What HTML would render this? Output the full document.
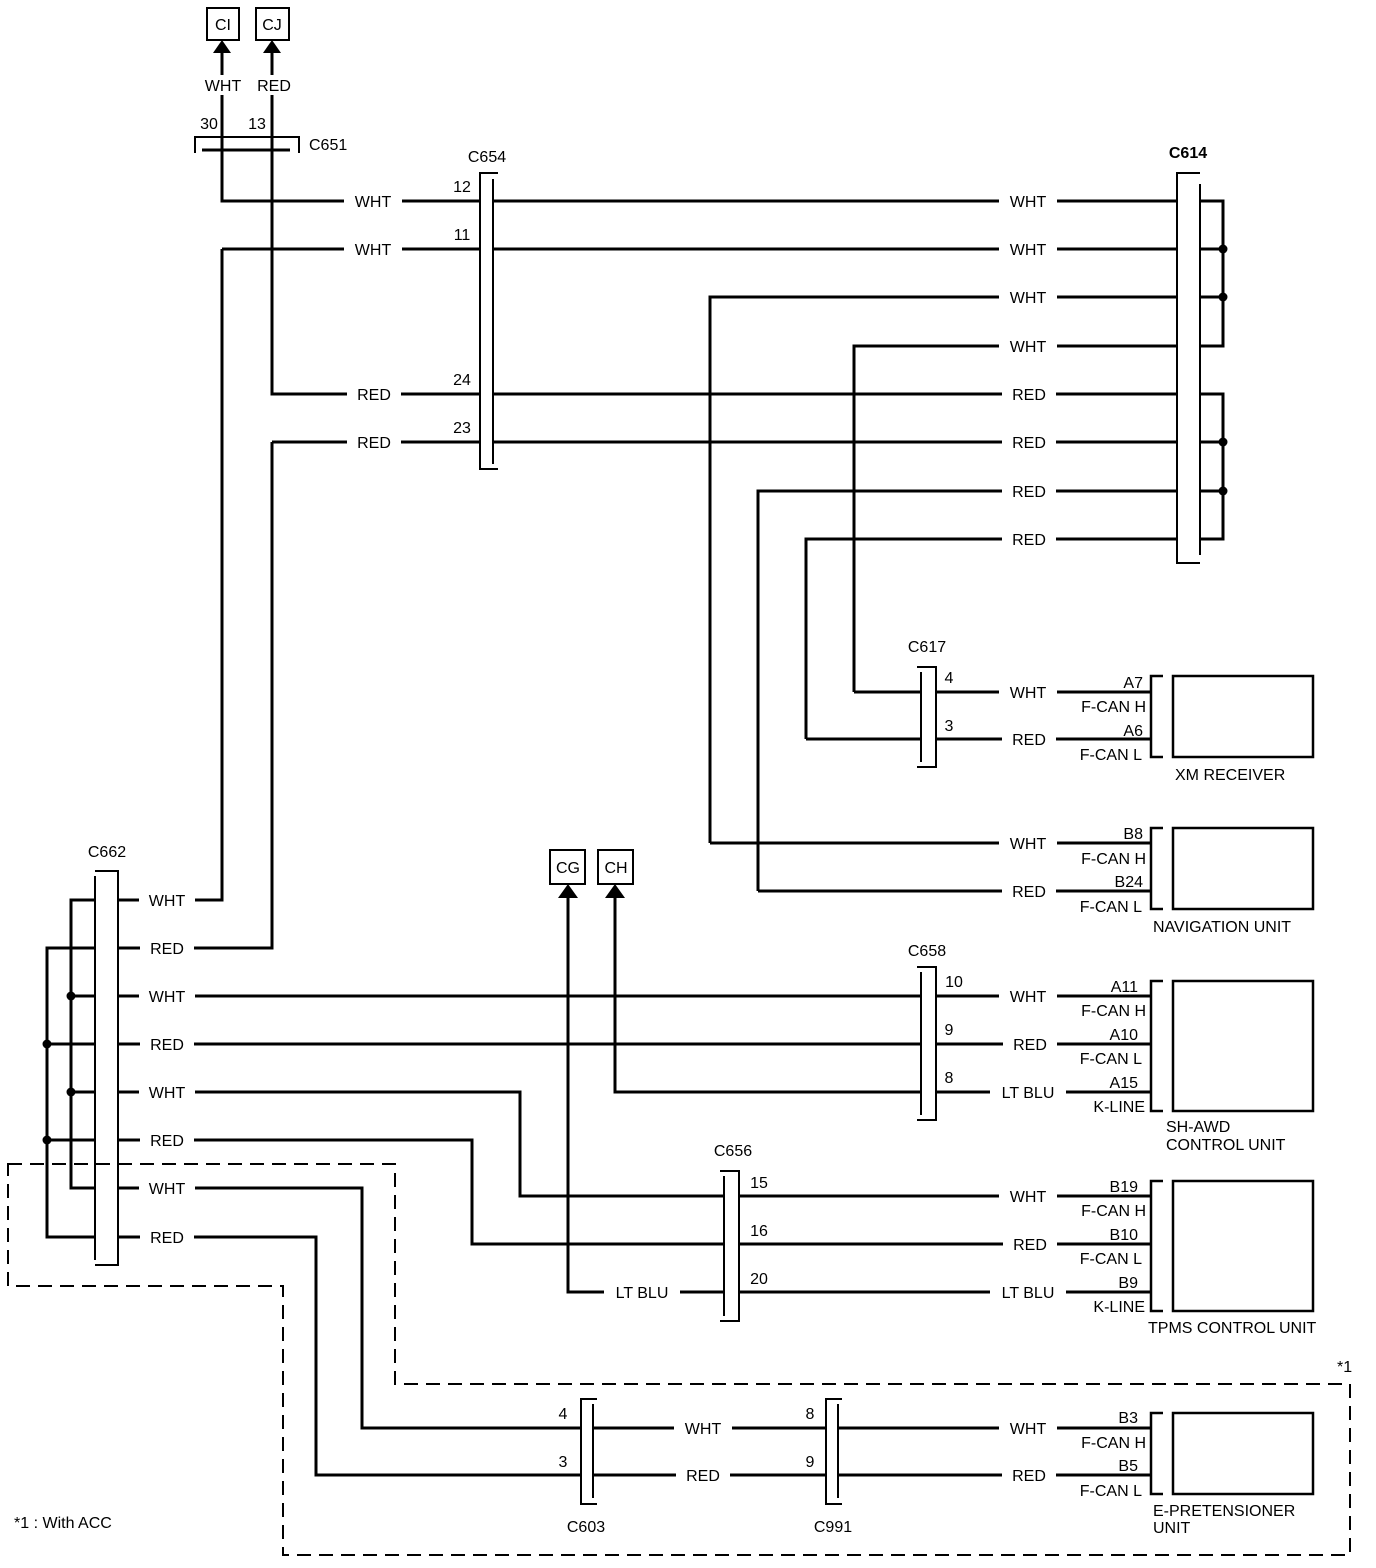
<!DOCTYPE html>
<html><head><meta charset="utf-8"><style>
html,body{margin:0;padding:0;background:#fff;}
svg{display:block;}
text{font-family:"Liberation Sans",Arial,sans-serif;font-size:16px;fill:#000;}
.w{stroke:#000;stroke-width:3;fill:none;}
.c{stroke:#000;stroke-width:2;fill:none;}
.d{stroke:#000;stroke-width:2;fill:none;stroke-dasharray:14 8;}
.m{text-anchor:middle;}
.e{text-anchor:end;}
</style></head><body>
<svg width="1376" height="1568" viewBox="0 0 1376 1568" xmlns="http://www.w3.org/2000/svg">
<!-- dashed region -->
<path class="d" d="M8,1164 H395 V1384 H1350 V1555 H283 V1286 H8 Z"/>
<text x="1337" y="1372">*1</text>
<text x="14" y="1528">*1 : With ACC</text>

<!-- top CI CJ -->
<rect x="207" y="8" width="32" height="32" class="c"/>
<rect x="256" y="8" width="33" height="32" class="c"/>
<text x="223" y="30" class="m">CI</text>
<text x="272" y="30" class="m">CJ</text>
<polygon points="222,40 213,53 231,53"/>
<polygon points="272,40 263,53 281,53"/>
<path class="w" d="M222,52 V75 M222,95 V201 H480 M272,52 V75 M272,95 V394 H480"/>
<text x="223" y="91" class="m">WHT</text>
<text x="274" y="91" class="m">RED</text>
<text x="209" y="129" class="m">30</text>
<text x="257" y="129" class="m">13</text>
<path class="c" d="M195,153 V137 H299 V153"/>
<path class="w" d="M202,150 H290"/>
<text x="309" y="150">C651</text>

<!-- C654 -->
<text x="487" y="162" class="m">C654</text>
<path class="w" d="M222,249 H480 M272,442 H480"/>
<path class="w" d="M493,201 H1177 M493,249 H1177 M493,394 H1177 M493,442 H1177"/>
<path class="w" d="M710,843 V297 H1177 M854,692 V346 H1177 M758,891 V491 H1177 M806,739 V539 H1177"/>
<path class="c" d="M498,173 H480 V469 H498 M493,179 V464"/>
<text x="462" y="192" class="m">12</text>
<text x="462" y="240" class="m">11</text>
<text x="462" y="385" class="m">24</text>
<text x="462" y="433" class="m">23</text>

<!-- C614 -->
<text x="1188" y="158" class="m" style="font-weight:bold">C614</text>
<path class="c" d="M1200,173 H1177 V563 H1200 M1200,184 V555"/>
<path class="w" d="M1200,201 H1223 V346 H1200 M1200,249 H1223 M1200,297 H1223 M1200,394 H1223 V539 H1200 M1200,442 H1223 M1200,491 H1223"/>
<circle cx="1223" cy="249" r="4.5"/><circle cx="1223" cy="297" r="4.5"/>
<circle cx="1223" cy="442" r="4.5"/><circle cx="1223" cy="491" r="4.5"/>

<!-- C617 -->
<text x="927" y="652" class="m">C617</text>
<path class="w" d="M854,692 H921 M806,739 H921 M936,692 H1151 M936,739 H1151"/>
<path class="c" d="M917,667 H936 V767 H917 M921,672 V762"/>
<text x="949" y="683" class="m">4</text>
<text x="949" y="731" class="m">3</text>

<!-- Nav wires -->
<path class="w" d="M710,843 H1151 M758,891 H1151"/>

<!-- C662 -->
<text x="107" y="857" class="m">C662</text>
<path class="c" d="M95,871 H118 V1265 H95 M95,876 V1260"/>
<path class="w" d="M95,900 H71 V1188 H95 M71,996 H95 M71,1092 H95 M95,948 H47 V1237 H95 M47,1044 H95 M47,1140 H95"/>
<circle cx="71" cy="996" r="4.5"/><circle cx="71" cy="1092" r="4.5"/>
<circle cx="47" cy="1044" r="4.5"/><circle cx="47" cy="1140" r="4.5"/>
<path class="w" d="M118,900 H222 V249 M118,948 H272 V442 M118,996 H921 M118,1044 H921 M118,1092 H520 V1196 H724 M118,1140 H472 V1244 H724 M118,1188 H362 V1428 H581 M118,1237 H316 V1475 H581"/>

<!-- CG CH -->
<rect x="550" y="850" width="35" height="34" class="c"/>
<rect x="598" y="850" width="35" height="34" class="c"/>
<text x="568" y="873" class="m">CG</text>
<text x="616" y="873" class="m">CH</text>
<polygon points="568,884 558,898 578,898"/>
<polygon points="615,884 605,898 625,898"/>
<path class="w" d="M568,897 V1292 H724 M615,897 V1092 H921"/>

<!-- C658 -->
<text x="927" y="956" class="m">C658</text>
<path class="c" d="M917,967 H936 V1120 H917 M921,972 V1115"/>
<path class="w" d="M936,996 H1151 M936,1044 H1151 M936,1092 H1151"/>
<text x="954" y="987" class="m">10</text>
<text x="949" y="1035" class="m">9</text>
<text x="949" y="1083" class="m">8</text>

<!-- C656 -->
<text x="733" y="1156" class="m">C656</text>
<path class="c" d="M720,1171 H739 V1321 H720 M724,1176 V1316"/>
<path class="w" d="M739,1196 H1151 M739,1244 H1151 M739,1292 H1151"/>
<text x="759" y="1188" class="m">15</text>
<text x="759" y="1236" class="m">16</text>
<text x="759" y="1284" class="m">20</text>

<!-- C603 / C991 -->
<path class="c" d="M597,1399 H581 V1504 H597 M593,1404 V1498"/>
<path class="c" d="M842,1399 H826 V1504 H842 M838,1404 V1498"/>
<path class="w" d="M593,1428 H826 M593,1475 H826 M838,1428 H1151 M838,1475 H1151"/>
<text x="563" y="1419" class="m">4</text>
<text x="563" y="1467" class="m">3</text>
<text x="810" y="1419" class="m">8</text>
<text x="810" y="1467" class="m">9</text>
<text x="586" y="1532" class="m">C603</text>
<text x="833" y="1532" class="m">C991</text>

<!-- wire label backgrounds + labels -->
<g fill="#fff">
<rect x="344" y="191" width="58" height="20"/><rect x="344" y="239" width="58" height="20"/>
<rect x="347" y="384" width="54" height="20"/><rect x="347" y="432" width="54" height="20"/>
<rect x="999" y="191" width="58" height="20"/><rect x="999" y="239" width="58" height="20"/>
<rect x="999" y="287" width="58" height="20"/><rect x="999" y="336" width="58" height="20"/>
<rect x="1002" y="384" width="54" height="20"/><rect x="1002" y="432" width="54" height="20"/>
<rect x="1002" y="481" width="54" height="20"/><rect x="1002" y="529" width="54" height="20"/>
<rect x="999" y="682" width="58" height="20"/><rect x="1002" y="729" width="54" height="20"/>
<rect x="999" y="833" width="58" height="20"/><rect x="1002" y="881" width="54" height="20"/>
<rect x="139" y="890" width="56" height="20"/><rect x="140" y="938" width="54" height="20"/>
<rect x="139" y="986" width="56" height="20"/><rect x="140" y="1034" width="54" height="20"/>
<rect x="139" y="1082" width="56" height="20"/><rect x="140" y="1130" width="54" height="20"/>
<rect x="139" y="1178" width="56" height="20"/><rect x="140" y="1227" width="54" height="20"/>
<rect x="999" y="986" width="58" height="20"/><rect x="1003" y="1034" width="54" height="20"/>
<rect x="990" y="1082" width="76" height="20"/>
<rect x="999" y="1186" width="58" height="20"/><rect x="1003" y="1234" width="54" height="20"/>
<rect x="990" y="1282" width="76" height="20"/><rect x="604" y="1282" width="76" height="20"/>
<rect x="674" y="1418" width="58" height="20"/><rect x="676" y="1465" width="54" height="20"/>
<rect x="999" y="1418" width="58" height="20"/><rect x="1002" y="1465" width="54" height="20"/>
</g>
<g class="m">
<text x="373" y="207">WHT</text><text x="373" y="255">WHT</text>
<text x="374" y="400">RED</text><text x="374" y="448">RED</text>
<text x="1028" y="207">WHT</text><text x="1028" y="255">WHT</text>
<text x="1028" y="303">WHT</text><text x="1028" y="352">WHT</text>
<text x="1029" y="400">RED</text><text x="1029" y="448">RED</text>
<text x="1029" y="497">RED</text><text x="1029" y="545">RED</text>
<text x="1028" y="698">WHT</text><text x="1029" y="745">RED</text>
<text x="1028" y="849">WHT</text><text x="1029" y="897">RED</text>
<text x="167" y="906">WHT</text><text x="167" y="954">RED</text>
<text x="167" y="1002">WHT</text><text x="167" y="1050">RED</text>
<text x="167" y="1098">WHT</text><text x="167" y="1146">RED</text>
<text x="167" y="1194">WHT</text><text x="167" y="1243">RED</text>
<text x="1028" y="1002">WHT</text><text x="1030" y="1050">RED</text>
<text x="1028" y="1098">LT BLU</text>
<text x="1028" y="1202">WHT</text><text x="1030" y="1250">RED</text>
<text x="1028" y="1298">LT BLU</text><text x="642" y="1298">LT BLU</text>
<text x="703" y="1434">WHT</text><text x="703" y="1481">RED</text>
<text x="1028" y="1434">WHT</text><text x="1029" y="1481">RED</text>
</g>

<!-- component brackets & boxes -->
<g class="c" style="stroke-width:2.5">
<path d="M1163,676 H1151 V757 H1163"/><rect x="1173" y="676" width="140" height="81"/>
<path d="M1163,828 H1151 V909 H1163"/><rect x="1173" y="828" width="140" height="81"/>
<path d="M1163,981 H1151 V1111 H1163"/><rect x="1173" y="981" width="140" height="130"/>
<path d="M1163,1181 H1151 V1311 H1163"/><rect x="1173" y="1181" width="140" height="130"/>
<path d="M1163,1413 H1151 V1494 H1163"/><rect x="1173" y="1413" width="140" height="81"/>
</g>
<g class="e">
<text x="1143" y="688">A7</text><text x="1146" y="712">F-CAN H</text>
<text x="1143" y="736">A6</text><text x="1142" y="760">F-CAN L</text>
<text x="1143" y="839">B8</text><text x="1146" y="864">F-CAN H</text>
<text x="1143" y="887">B24</text><text x="1142" y="912">F-CAN L</text>
<text x="1138" y="992">A11</text><text x="1146" y="1016">F-CAN H</text>
<text x="1138" y="1040">A10</text><text x="1142" y="1064">F-CAN L</text>
<text x="1138" y="1088">A15</text><text x="1145" y="1112">K-LINE</text>
<text x="1138" y="1192">B19</text><text x="1146" y="1216">F-CAN H</text>
<text x="1138" y="1240">B10</text><text x="1142" y="1264">F-CAN L</text>
<text x="1138" y="1288">B9</text><text x="1145" y="1312">K-LINE</text>
<text x="1138" y="1423">B3</text><text x="1146" y="1448">F-CAN H</text>
<text x="1138" y="1471">B5</text><text x="1142" y="1496">F-CAN L</text>
</g>
<text x="1175" y="780">XM RECEIVER</text>
<text x="1153" y="932">NAVIGATION UNIT</text>
<text x="1166" y="1132">SH-AWD</text>
<text x="1166" y="1150">CONTROL UNIT</text>
<text x="1148" y="1333">TPMS CONTROL UNIT</text>
<text x="1153" y="1516">E-PRETENSIONER</text>
<text x="1153" y="1533">UNIT</text>
</svg>
</body></html>
